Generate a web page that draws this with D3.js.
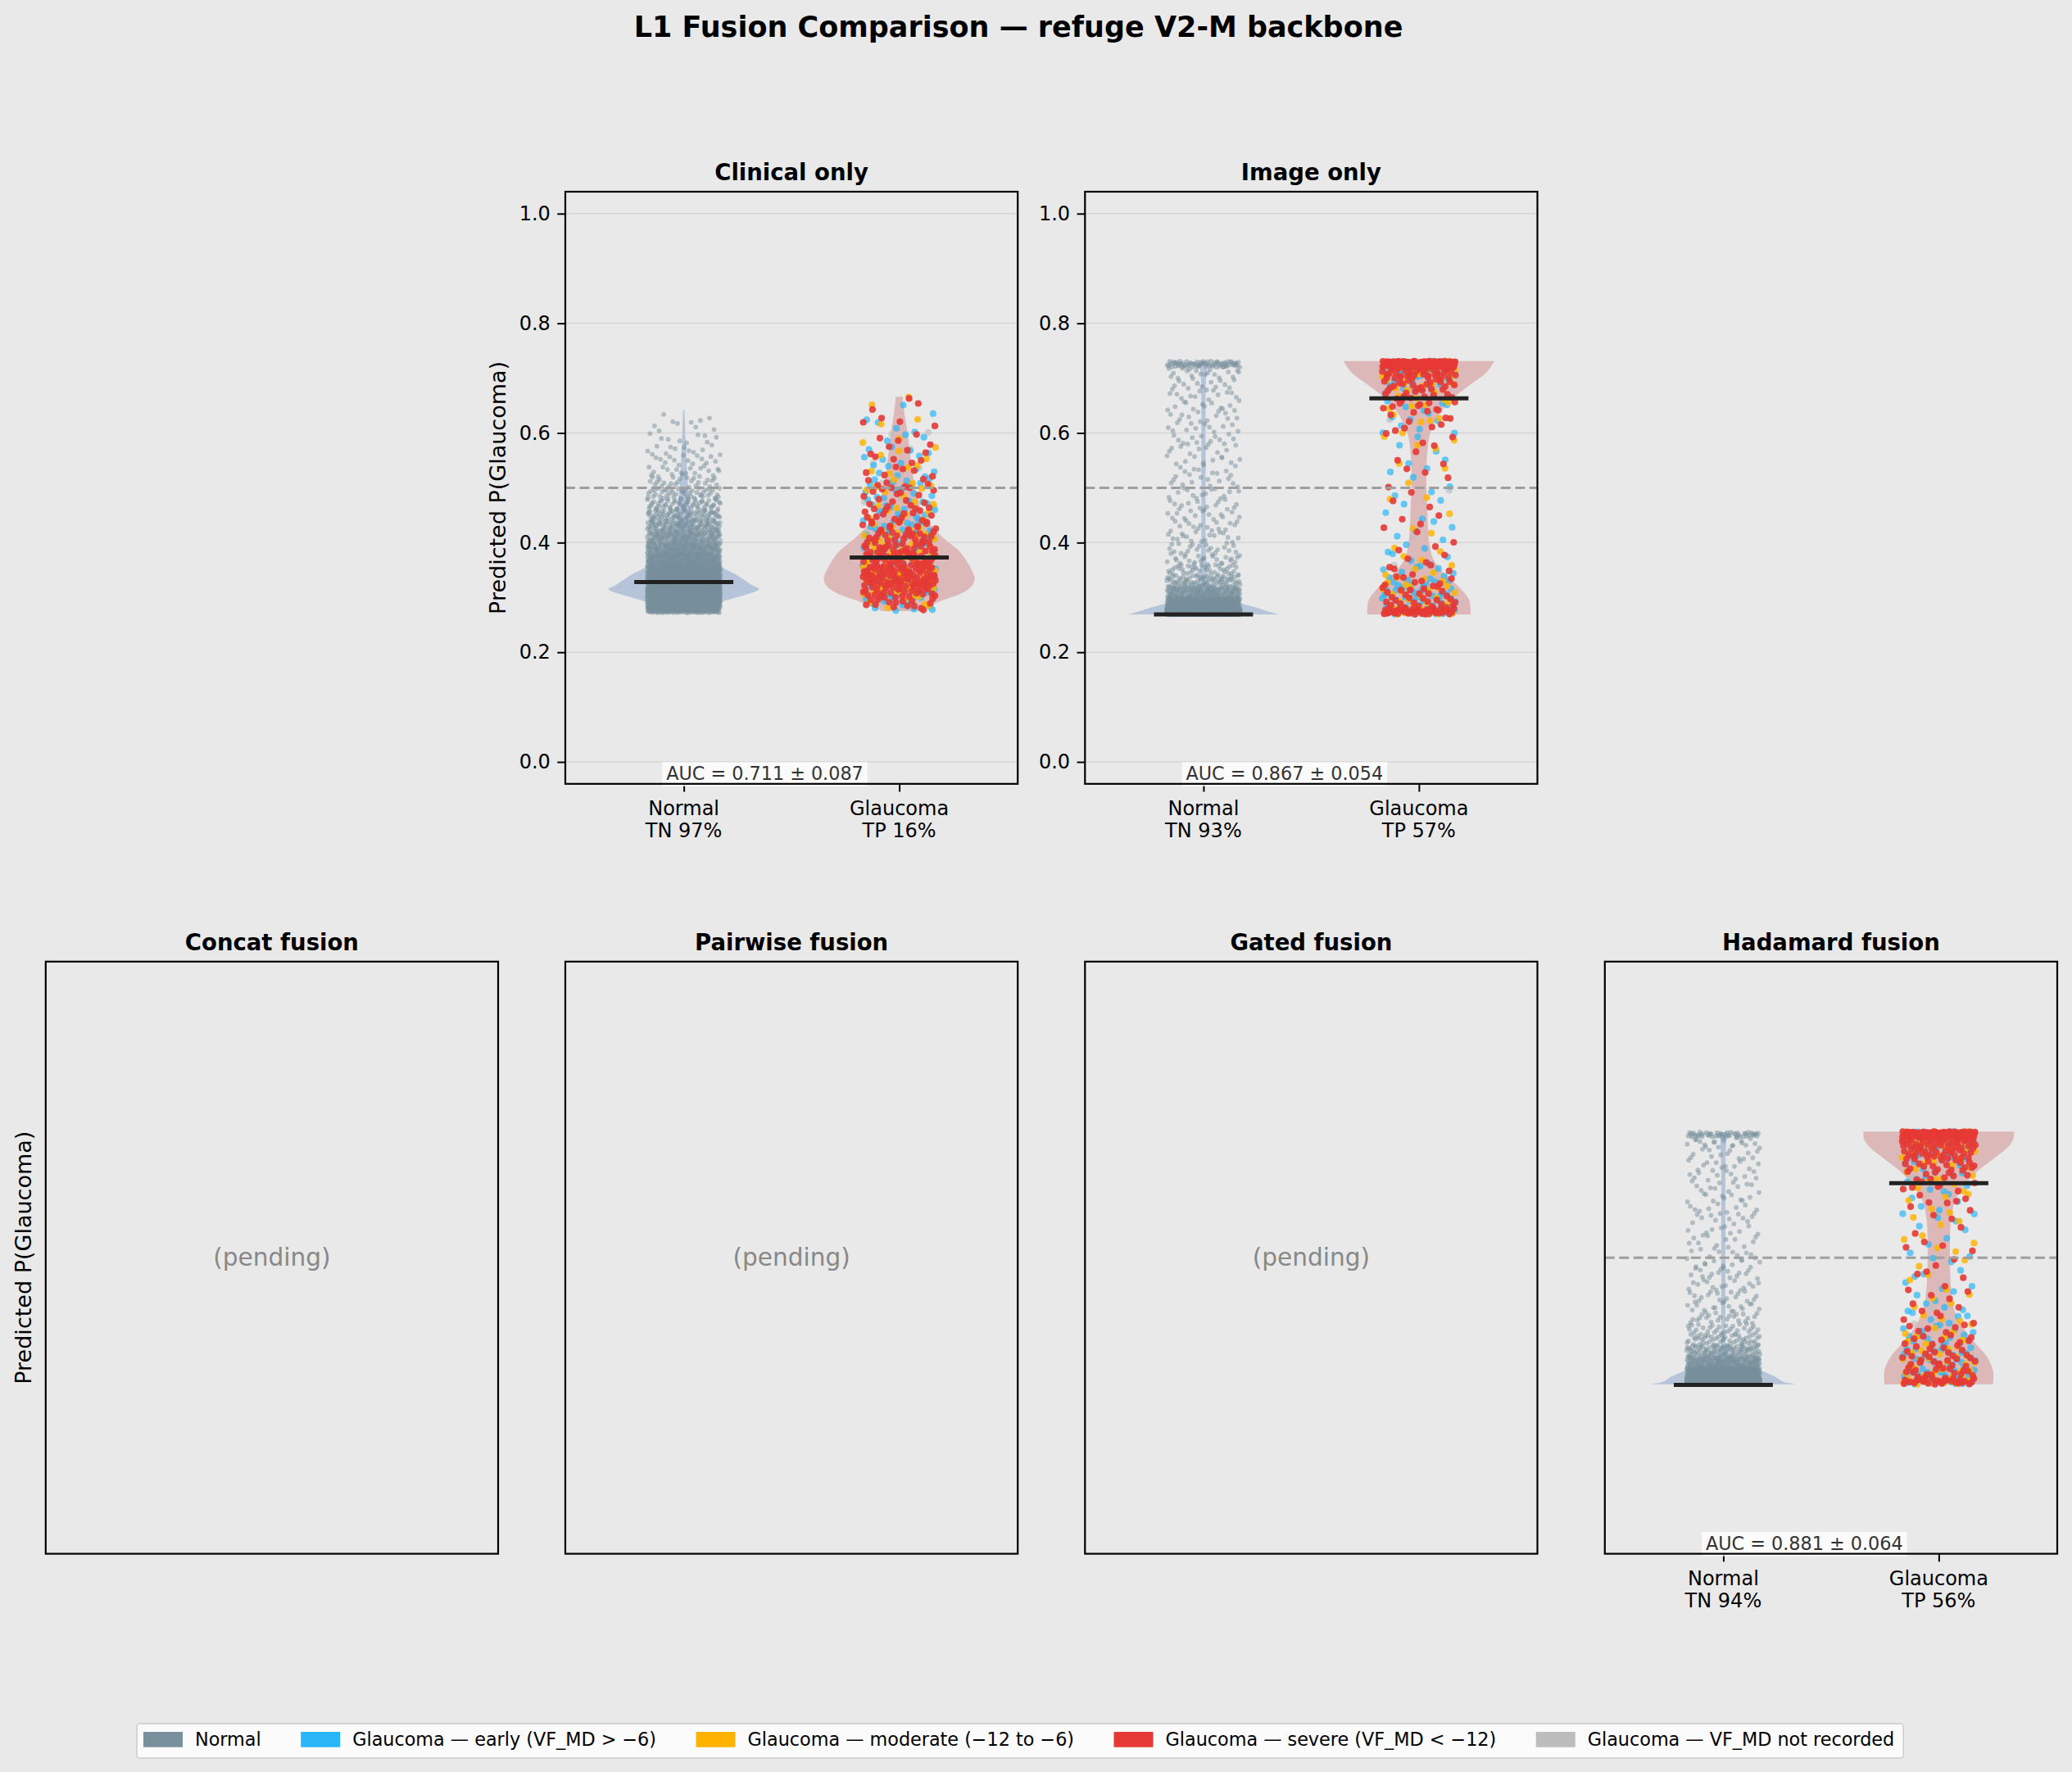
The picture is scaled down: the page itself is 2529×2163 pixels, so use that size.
<!DOCTYPE html>
<html>
<head>
<meta charset="utf-8">
<script src="https://cdn.jsdelivr.net/npm/d3@7"></script>
<style>
  body { margin: 0; background: #e9e9e9; }
  svg { display: block; font-family: "DejaVu Sans", sans-serif; }
</style>
</head>
<body>
<div id="chart"></div>
<script>
// Valeurs

var panelTitles = ["Clinical only", "Image only", "Concat fusion", "Pairwise fusion", "Gated fusion", "Hadamard fusion"];
var groups = ["Normal", "Glaucoma"];
var yTicks = [0, 0.2, 0.4, 0.6, 0.8, 1.0];

// panels with results: clinical, image, hadamard
var aucLabels = ["AUC = 0.711 ± 0.087", "AUC = 0.867 ± 0.054", "AUC = 0.881 ± 0.064"];
var tnPct = [97, 93, 94];
var tpPct = [16, 57, 56];
var medNormal = [0.328, 0.269, 0.268];
var medGlaucoma = [0.373, 0.663, 0.636];

// point counts per 0.02 bin, bins start at 0.26 (24 bins up to 0.74)
var binStart = 0.26, binStep = 0.02;

var clinNormal   = [125,480,645,460,345,240,172,132,104,78,58,44,25,20,14,12,9,6,4,0,0,0,0,0];
var clinEarly    = [3,10,14,18,17,14,13,11,10,9,8,7,7,6,5,4,3,3,2,1,0,0,0,0];
var clinModerate = [0,5,10,16,15,12,9,7,6,5,4,4,4,3,3,2,2,1,1,1,1,0,0,0];
var clinSevere   = [1,15,28,43,40,31,26,21,16,12,10,8,7,6,4,5,3,2,2,2,1,0,0,0];
var clinNotRec   = [0,2,2,3,3,3,3,2,2,2,2,1,1,1,1,1,1,1,0,0,0,0,0,0];

var imgNormal    = [2074,330,150,75,40,26,20,17,15,15,14,14,11,11,11,11,12,12,12,13,14,13,20,70];
var imgEarly     = [38,22,16,10,6,4,3,2,3,2,2,2,2,2,2,2,2,3,4,5,6,7,10,25];
var imgModerate  = [20,10,8,6,4,2,2,1,1,1,1,1,1,1,1,2,2,2,3,4,5,7,12,30];
var imgSevere    = [42,17,12,8,5,3,2,2,2,2,2,1,2,2,2,2,3,4,6,10,13,20,36,130];
var imgNotRec    = [5,3,2,1,1,1,0,1,0,0,0,1,0,0,0,0,0,0,1,1,1,1,2,5];

var hadNormal    = [2031,350,170,90,50,30,22,18,16,15,14,14,10,10,10,11,11,11,11,12,12,12,20,50];
var hadEarly     = [25,20,17,14,10,7,5,4,3,3,3,2,2,2,2,3,3,3,4,5,6,8,10,20];
var hadModerate  = [14,10,9,7,5,4,3,2,2,2,1,2,2,2,2,2,2,3,4,4,6,9,13,22];
var hadSevere    = [27,17,14,12,9,6,4,3,3,2,3,2,2,2,2,2,3,4,7,10,17,27,40,104];
var hadNotRec    = [3,3,2,2,1,1,1,1,0,0,0,0,0,0,0,0,0,0,1,1,1,1,2,4];

// min / max of each group (violins are cut there)
var clinNormalRange = [0.272, 0.642], clinGlaucRange = [0.275, 0.666];
var imgNormalRange  = [0.269, 0.731], imgGlaucRange  = [0.269, 0.731];
var hadNormalRange  = [0.269, 0.729], hadGlaucRange  = [0.269, 0.730];

// violin outlines : [value, width relative to the widest point]
var clinNormalViolin = [[0.272,0.25],[0.28,0.33],[0.287,0.43],[0.294,0.545],[0.3035,0.78],[0.311,0.95],[0.315,1.0],[0.3235,0.89],[0.334,0.78],[0.3434,0.67],[0.352,0.545],[0.365,0.42],[0.38,0.30],[0.40,0.20],[0.42,0.14],[0.443,0.10],[0.46,0.085],[0.483,0.067],[0.51,0.052],[0.533,0.042],[0.56,0.032],[0.60,0.02],[0.642,0.008]];
var clinGlaucViolin = [[0.275,0.22],[0.281,0.33],[0.2936,0.55],[0.3086,0.84],[0.322,0.97],[0.336,1.0],[0.35,0.96],[0.365,0.90],[0.383,0.805],[0.40,0.66],[0.413,0.55],[0.433,0.41],[0.455,0.31],[0.483,0.24],[0.51,0.20],[0.533,0.17],[0.56,0.145],[0.583,0.124],[0.61,0.10],[0.632,0.073],[0.666,0.045]];
var imgNormalViolin = [[0.269,1.0],[0.276,0.82],[0.2836,0.65],[0.2936,0.36],[0.3035,0.19],[0.3135,0.12],[0.3235,0.084],[0.3385,0.058],[0.36,0.04],[0.40,0.03],[0.50,0.028],[0.60,0.028],[0.68,0.03],[0.712,0.04],[0.731,0.06]];
var imgGlaucViolin = [[0.269,0.685],[0.294,0.67],[0.3135,0.57],[0.3335,0.42],[0.3535,0.27],[0.3733,0.18],[0.403,0.134],[0.463,0.11],[0.513,0.098],[0.563,0.11],[0.597,0.145],[0.622,0.22],[0.642,0.31],[0.662,0.44],[0.687,0.67],[0.707,0.87],[0.72,0.95],[0.731,1.0]];
var hadNormalViolin = [[0.269,1.0],[0.2737,0.80],[0.2837,0.68],[0.2937,0.50],[0.3036,0.30],[0.311,0.15],[0.3185,0.094],[0.326,0.06],[0.3435,0.03],[0.40,0.028],[0.55,0.028],[0.68,0.03],[0.729,0.047]];
var hadGlaucViolin = [[0.269,0.72],[0.294,0.72],[0.319,0.64],[0.343,0.49],[0.373,0.32],[0.403,0.21],[0.443,0.163],[0.493,0.148],[0.533,0.148],[0.572,0.163],[0.602,0.21],[0.622,0.29],[0.642,0.40],[0.662,0.55],[0.682,0.74],[0.702,0.92],[0.717,0.99],[0.730,1.0]];

var legendLabels = ["Normal", "Glaucoma — early (VF_MD > −6)", "Glaucoma — moderate (−12 to −6)", "Glaucoma — severe (VF_MD < −12)", "Glaucoma — VF_MD not recorded"];
var legendColors = ["#78909C", "#29B6F6", "#FFB300", "#E53935", "#BDBDBD"];

// Mise en page

var W = 2529, H = 2163;
var colX = [55.8, 690, 1324.3, 1958.8], rowY = [234, 1173.8];
var pw = 552.2, ph = 722.8;

var results = [
  {normal: clinNormal, nRange: clinNormalRange, nViolin: clinNormalViolin,
   sub: [clinNotRec, clinEarly, clinModerate, clinSevere], gRange: clinGlaucRange, gViolin: clinGlaucViolin},
  {normal: imgNormal, nRange: imgNormalRange, nViolin: imgNormalViolin,
   sub: [imgNotRec, imgEarly, imgModerate, imgSevere], gRange: imgGlaucRange, gViolin: imgGlaucViolin},
  {normal: hadNormal, nRange: hadNormalRange, nViolin: hadNormalViolin,
   sub: [hadNotRec, hadEarly, hadModerate, hadSevere], gRange: hadGlaucRange, gViolin: hadGlaucViolin}
];
// subgroup draw order : not recorded, early, moderate, severe
var subColors = ["#BDBDBD", "#29B6F6", "#FFB300", "#E53935"];
var subAlpha = [0.6, 0.7, 0.82, 0.9];

var panels = [
  {title: panelTitles[0], col: 1, row: 0, res: 0, yticks: true, ylabel: true},
  {title: panelTitles[1], col: 2, row: 0, res: 1, yticks: true, ylabel: false},
  {title: panelTitles[2], col: 0, row: 1, res: null, ylabel: true},
  {title: panelTitles[3], col: 1, row: 1, res: null},
  {title: panelTitles[4], col: 2, row: 1, res: null},
  {title: panelTitles[5], col: 3, row: 1, res: 2, yticks: false}
];

var svg = d3.select("#chart")
  .append("svg")
    .attr("width", W)
    .attr("height", H);

svg.append("rect").attr("width", W).attr("height", H).attr("fill", "#e9e9e9");

svg.append("text")
  .attr("x", 1243).attr("y", 45)
  .attr("text-anchor", "middle")
  .style("font-size", "35px").style("font-weight", "bold")
  .text("L1 Fusion Comparison — refuge V2-M backbone");

// jitter : deterministic (Halton 2/3) spread of each bin's points inside its box
function vdc(n, b) {
  var q = 0, f = 1 / b;
  while (n > 0) { q += (n % b) * f; n = Math.floor(n / b); f /= b; }
  return q;
}
function spreadBins(counts, range, offset) {
  var out = [], idx = offset;
  counts.forEach(function(n, i) {
    var lo = Math.max(binStart + i * binStep, range[0]),
        hi = Math.min(binStart + (i + 1) * binStep, range[1]);
    for (var k = 0; k < n; k++) {
      idx++;
      out.push({v: lo + vdc(idx, 3) * (hi - lo), j: vdc(idx, 2) - 0.5});
    }
  });
  return out;
}

panels.forEach(function(p) {
  var left = colX[p.col], top = rowY[p.row];
  var g = svg.append("g").attr("transform", "translate(" + left + "," + top + ")");

  var y = d3.scaleLinear().domain([-0.04, 1.04]).range([ph, 0]);
  var x = d3.scaleLinear().domain([-0.55, 1.55]).range([0, pw]);

  g.append("text")
    .attr("x", pw / 2).attr("y", -14)
    .attr("text-anchor", "middle")
    .style("font-size", "27.5px").style("font-weight", "bold")
    .text(p.title);

  if (p.ylabel) {
    g.append("text")
      .attr("transform", "rotate(-90)")
      .attr("x", -ph / 2)
      .attr("y", p.yticks ? -73.2 : -18.2)
      .attr("text-anchor", "middle")
      .style("font-size", "27px")
      .text("Predicted P(Glaucoma)");
  }

  if (p.res === null) {
    g.append("text")
      .attr("x", pw / 2).attr("y", ph / 2)
      .attr("text-anchor", "middle")
      .attr("dominant-baseline", "central")
      .style("font-size", "29.6px")
      .attr("fill", "#888888")
      .text("(pending)");
    g.append("rect").attr("width", pw).attr("height", ph)
      .attr("fill", "none").attr("stroke", "#000").attr("stroke-width", 2.2);
    return;
  }

  var r = results[p.res];

  // grille + axe des ordonnées
  if (p.yticks) {
    g.selectAll(".grid").data(yTicks).enter().append("line")
      .attr("x1", 0).attr("x2", pw)
      .attr("y1", function(d) { return y(d); })
      .attr("y2", function(d) { return y(d); })
      .attr("stroke", "#d5d5d5").attr("stroke-width", 1.5);

    var ya = g.append("g")
      .call(d3.axisLeft(y).tickValues(yTicks).tickFormat(d3.format(".1f")).tickSize(9.7).tickPadding(8.5));
    ya.select(".domain").remove();
    ya.selectAll("line").attr("stroke", "#000").attr("stroke-width", 2);
    ya.selectAll("text").style("font-size", "24px").style("font-family", "DejaVu Sans").attr("fill", "#000");
  }

  // axe des abscisses
  var xa = g.append("g")
    .attr("transform", "translate(0," + ph + ")")
    .call(d3.axisBottom(x).tickValues([0, 1]).tickFormat("").tickSize(9.7));
  xa.select(".domain").remove();
  xa.selectAll("line").attr("stroke", "#000").attr("stroke-width", 2);

  var sub2 = ["TN " + tnPct[p.res] + "%", "TP " + tpPct[p.res] + "%"];
  groups.forEach(function(name, i) {
    var t = g.append("text")
      .attr("text-anchor", "middle")
      .style("font-size", "24px");
    t.append("tspan").attr("x", x(i)).attr("y", ph + 38.5).text(name);
    t.append("tspan").attr("x", x(i)).attr("y", ph + 65.5).text(sub2[i]);
  });

  // violons
  var unit = x(1) - x(0);
  function violin(prof, xc, col) {
    g.append("path")
      .datum(prof)
      .attr("d", d3.area()
        .curve(d3.curveCatmullRom.alpha(0.5))
        .y(function(d) { return y(d[0]); })
        .x0(function(d) { return xc - d[1] * 0.35 * unit; })
        .x1(function(d) { return xc + d[1] * 0.35 * unit; }))
      .attr("fill", col);
  }
  violin(r.nViolin, x(0), "#b6c4da");
  violin(r.gViolin, x(1), "#dcb8b9");

  // points
  var nPts = spreadBins(r.normal, r.nRange, 0);
  g.append("g").selectAll("circle").data(nPts).enter().append("circle")
    .attr("cx", function(d) { return x(0 + d.j * 0.34); })
    .attr("cy", function(d) { return y(d.v); })
    .attr("r", 2.9)
    .attr("fill", "#78909C").attr("fill-opacity", 0.5);

  var offset = 0;
  r.sub.forEach(function(counts, s) {
    var pts = spreadBins(counts, r.gRange, 5000 + offset + s * 37);
    offset += d3.sum(counts);
    g.append("g").selectAll("circle").data(pts).enter().append("circle")
      .attr("cx", function(d) { return x(1 + d.j * 0.34); })
      .attr("cy", function(d) { return y(d.v); })
      .attr("r", 4.1)
      .attr("fill", subColors[s]).attr("fill-opacity", subAlpha[s]);
  });

  // seuil 0.5
  g.append("line")
    .attr("x1", 0).attr("x2", pw)
    .attr("y1", y(0.5)).attr("y2", y(0.5))
    .attr("stroke", "#9e9e9e").attr("stroke-width", 3)
    .attr("stroke-dasharray", "12,5.5");

  // médianes
  [medNormal[p.res], medGlaucoma[p.res]].forEach(function(m, i) {
    g.append("line")
      .attr("x1", x(i - 0.23)).attr("x2", x(i + 0.23))
      .attr("y1", y(m)).attr("y2", y(m))
      .attr("stroke", "#222").attr("stroke-width", 5);
  });

  // AUC
  var box = g.append("g");
  var bg = box.append("rect");
  var at = box.append("text")
    .attr("x", 0.441 * pw).attr("y", ph - 4.5)
    .attr("text-anchor", "middle")
    .style("font-size", "22.3px")
    .attr("fill", "#333")
    .text(aucLabels[p.res]);
  var bb = at.node().getBBox();
  bg.attr("x", bb.x - 5).attr("width", bb.width + 10)
    .attr("y", ph - 26.5).attr("height", 29.5)
    .attr("fill", "#fff").attr("fill-opacity", 0.8);

  g.append("rect").attr("width", pw).attr("height", ph)
    .attr("fill", "none").attr("stroke", "#000").attr("stroke-width", 2.2);
});

// Légende
var leg = svg.append("g");
var legBox = leg.append("rect")
  .attr("y", 2104).attr("height", 42)
  .attr("rx", 4)
  .attr("fill", "#fff").attr("fill-opacity", 0.8)
  .attr("stroke", "#cccccc").attr("stroke-width", 1.5);

var lx = 175;
legendLabels.forEach(function(lab, i) {
  leg.append("rect")
    .attr("x", lx).attr("y", 2114)
    .attr("width", 48).attr("height", 18.7)
    .attr("fill", legendColors[i]);
  var t = leg.append("text")
    .attr("x", lx + 63).attr("y", 2131)
    .style("font-size", "22.3px")
    .text(lab);
  lx += 63 + t.node().getComputedTextLength() + 48.5;
});
legBox.attr("x", 167).attr("width", lx - 48.5 + 11 - 167);
</script>
</body>
</html>
